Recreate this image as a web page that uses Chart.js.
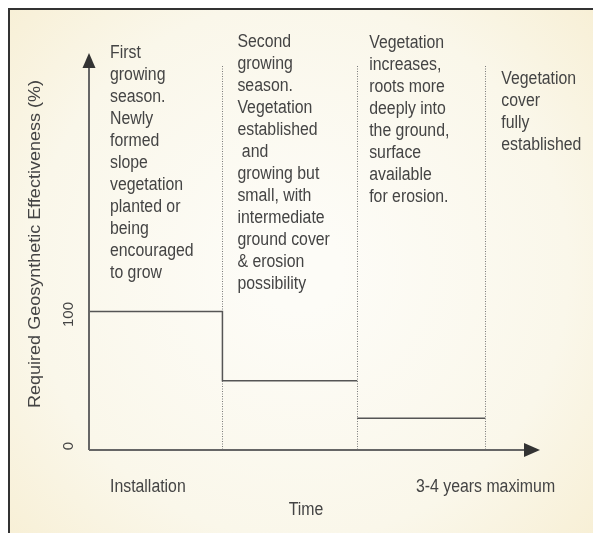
<!DOCTYPE html>
<html>
<head>
<meta charset="utf-8">
<script src="https://cdn.jsdelivr.net/npm/chart.js@4/dist/chart.umd.min.js"></script>
<style>
  body { margin: 0; background: #fff; }
  #wrap { width: 593px; height: 533px; }
</style>
</head>
<body>
<div id="wrap"><canvas id="myChart" width="593" height="533"></canvas></div>
<script>
// phase boundaries along the time axis (phase widths)
const phaseEdges = [0, 1, 2.01, 2.97];
const effectiveness = [100, 50, 23];
// is the drop between phase i and i+1 drawn as a solid line?
const solidDrops = [true, false];
const yTicks = [0, 100];
const xLabels = ['Installation', '3-4 years maximum'];
const phaseNotes = [
  ['First', 'growing', 'season.', 'Newly', 'formed', 'slope', 'vegetation', 'planted or', 'being', 'encouraged', 'to grow'],
  ['Second', 'growing', 'season.', 'Vegetation', 'established', ' and', 'growing but', 'small, with', 'intermediate', 'ground cover', '& erosion', 'possibility'],
  ['Vegetation', 'increases,', 'roots more', 'deeply into', 'the ground,', 'surface', 'available', 'for erosion.'],
  ['Vegetation', 'cover', 'fully', 'established']
];
const xTitle = 'Time';
const yTitle = 'Required Geosynthetic Effectiveness (%)';

const textColor = '#444';
const FONT = '18px "Liberation Sans", Arial, sans-serif';

// each level holds across its phase; a null breaks the line where the drop is not drawn
const stepPoints = [];
effectiveness.forEach((v, i) => {
  if (i > 0 && !solidDrops[i - 1]) stepPoints.push({ x: phaseEdges[i], y: null });
  stepPoints.push({ x: phaseEdges[i], y: v });
  stepPoints.push({ x: phaseEdges[i + 1], y: v });
});

function narrowText(ctx, str, x, y, align) {
  ctx.save();
  ctx.translate(x, y);
  ctx.scale(0.88, 1);
  ctx.textAlign = align || 'left';
  ctx.fillText(str, 0, 0);
  ctx.restore();
}

const backdrop = {
  id: 'backdrop',
  beforeDraw(chart) {
    const ctx = chart.ctx;
    const w = chart.width, h = chart.height;
    ctx.save();
    ctx.fillStyle = '#fff';
    ctx.fillRect(0, 0, w, h);
    const g = ctx.createRadialGradient(300, 270, 40, 300, 270, 420);
    g.addColorStop(0, '#fdfcf7');
    g.addColorStop(0.6, '#faf7ea');
    g.addColorStop(1, '#f7eed2');
    ctx.fillStyle = g;
    ctx.fillRect(8, 8, w - 8, h - 8);
    ctx.strokeStyle = '#333';
    ctx.lineWidth = 2;
    ctx.beginPath();
    ctx.moveTo(9, h);
    ctx.lineTo(9, 9);
    ctx.lineTo(w, 9);
    ctx.stroke();

    // dotted phase separators
    const xs = chart.scales.x, ys = chart.scales.y;
    ctx.strokeStyle = '#7a7a7a';
    ctx.lineWidth = 1;
    ctx.setLineDash([1, 1.5]);
    for (let i = 1; i < phaseEdges.length; i++) {
      const px = Math.round(xs.getPixelForValue(phaseEdges[i])) + 0.5;
      ctx.beginPath();
      ctx.moveTo(px, 66);
      ctx.lineTo(px, ys.getPixelForValue(0));
      ctx.stroke();
    }
    ctx.restore();
  },
  afterDatasetsDraw(chart) {
    const ctx = chart.ctx;
    const a = chart.chartArea;
    const xs = chart.scales.x, ys = chart.scales.y;
    const x0 = xs.getPixelForValue(0), y0 = ys.getPixelForValue(0);
    ctx.save();
    ctx.strokeStyle = '#666';
    ctx.lineWidth = 2;
    ctx.beginPath();
    ctx.moveTo(x0, y0);
    ctx.lineTo(x0, a.top + 10);
    ctx.moveTo(x0, y0);
    ctx.lineTo(a.right - 10, y0);
    ctx.stroke();
    ctx.fillStyle = '#333';
    ctx.beginPath();
    ctx.moveTo(x0, a.top);
    ctx.lineTo(x0 - 6.5, a.top + 15);
    ctx.lineTo(x0 + 6.5, a.top + 15);
    ctx.closePath();
    ctx.fill();
    ctx.beginPath();
    ctx.moveTo(a.right, y0);
    ctx.lineTo(a.right - 16, y0 - 7);
    ctx.lineTo(a.right - 16, y0 + 7);
    ctx.closePath();
    ctx.fill();

    ctx.fillStyle = textColor;
    ctx.font = FONT;
    ctx.textBaseline = 'alphabetic';
    // phase notes
    const pads = [21, 15, 12, 16];
    const firstBase = [58, 47, 48, 84];
    phaseNotes.forEach((lines, i) => {
      const px = xs.getPixelForValue(phaseEdges[i]) + pads[i];
      lines.forEach((ln, j) => narrowText(ctx, ln, px, firstBase[i] + j * 22));
    });
    // x labels and title
    narrowText(ctx, xLabels[0], 110, 492);
    narrowText(ctx, xLabels[1], 416, 492);
    narrowText(ctx, xTitle, 306, 515, 'center');

    // rotated y ticks and title
    ctx.font = '15px "Liberation Sans", Arial, sans-serif';
    yTicks.forEach(v => {
      ctx.save();
      ctx.translate(73, ys.getPixelForValue(v) + (v === 0 ? -4 : 3));
      ctx.rotate(-Math.PI / 2);
      ctx.textAlign = 'center';
      ctx.fillText(String(v), 0, 0);
      ctx.restore();
    });
    ctx.font = FONT;
    ctx.save();
    ctx.translate(40, 244);
    ctx.rotate(-Math.PI / 2);
    ctx.scale(1, 0.9);
    ctx.textAlign = 'center';
    ctx.fillText(yTitle, 0, 0);
    ctx.restore();
    ctx.restore();
  }
};

window.onload = function() {
  const ctx = document.getElementById('myChart').getContext('2d');
  new Chart(ctx, {
    type: 'line',
    data: {
      datasets: [{
        data: stepPoints,
        spanGaps: false,
        borderColor: '#555',
        borderWidth: 1.5,
        pointRadius: 0,
        fill: false
      }]
    },
    options: {
      responsive: false,
      animation: false,
      layout: { padding: { left: 89, top: 53, right: 53, bottom: 83 } },
      plugins: { legend: { display: false }, tooltip: { enabled: false } },
      scales: {
        x: { type: 'linear', min: 0, max: 3.38, display: false },
        y: { type: 'linear', min: 0, max: 286.6, display: false }
      }
    },
    plugins: [backdrop]
  });
};
</script>
</body>
</html>
